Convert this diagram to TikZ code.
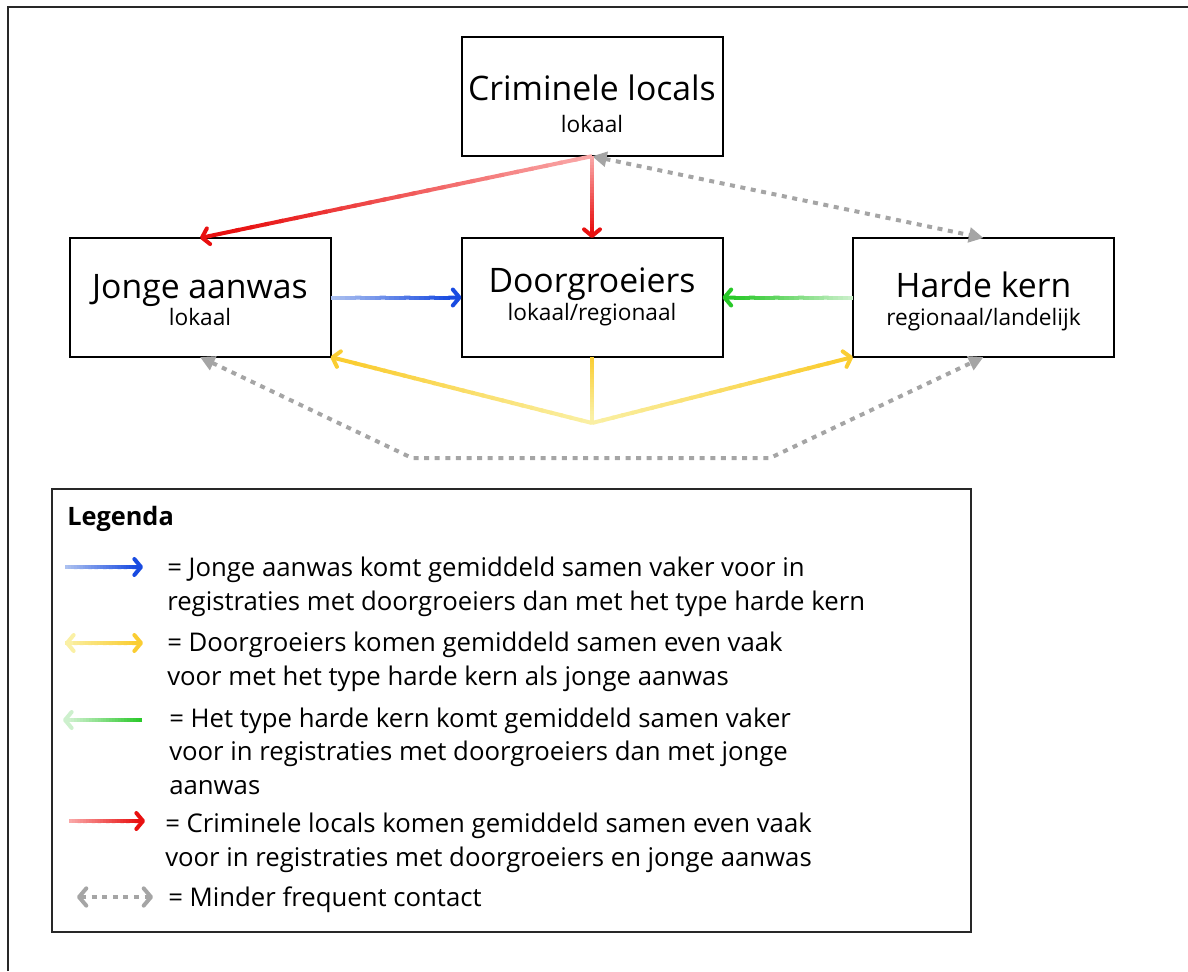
\documentclass[tikz,border=0pt]{standalone}
\usepackage{fontspec}
\setmainfont{Open Sans}
\usetikzlibrary{arrows.meta,calc}
\definecolor{cRed}{RGB}{232,16,16}
\definecolor{cRedL}{RGB}{250,170,170}
\definecolor{cBlue}{RGB}{25,75,225}
\definecolor{cBlueL}{RGB}{175,195,240}
\definecolor{cGreen}{RGB}{40,200,40}
\definecolor{cGreenL}{RGB}{205,240,205}
\definecolor{cYel}{RGB}{250,205,50}
\definecolor{cYelL}{RGB}{250,240,165}
\definecolor{cGray}{RGB}{165,165,165}
\definecolor{cFrame}{RGB}{40,40,40}
\tikzset{
 box/.style={draw=black, line width=1.5pt, minimum width=195.75pt, minimum height=89.25pt, inner sep=0pt, outer sep=0pt},
 ttl/.style={anchor=base, font=\fontsize{25.3}{30}\selectfont, inner sep=0pt},
 subt/.style={anchor=base, font=\fontsize{17}{20}\selectfont, inner sep=0pt},
 conn/.style={line width=3pt},
 barb/.style={-{Straight Barb[length=5pt,width=12pt,round]}},
 dots/.style={draw=cGray, line width=3pt, dash pattern=on 3.75pt off 4.2pt},
 tri/.style={{Triangle[length=11pt,width=11pt]}-{Triangle[length=11pt,width=11pt]}},
 bars/.style={{Straight Barb[length=5.5pt,width=13pt,round]}-{Straight Barb[length=5.5pt,width=13pt,round]}},
 lgd/.style={anchor=base west, font=\fontsize{19.3}{23}\selectfont, inner sep=0pt},
}
\newcommand\gradline[5]{%
  \foreach \k in {1,...,24}{%
    \pgfmathsetmacro\ta{0.9*(\k-1)/24}%
    \pgfmathsetmacro\tb{min(0.9*\k/24+0.01,0.91)}%
    \pgfmathtruncatemacro\pc{100*(\k-0.5)/24}%
    \draw[conn, draw=#4!\pc!#3] ($(#1)!\ta!(#2)$) -- ($(#1)!\tb!(#2)$);
  }%
  \draw[conn, draw=#4, #5] ($(#1)!0.9!(#2)$) -- (#2);
}
\begin{document}
\begin{tikzpicture}[x=0.75pt,y=-0.75pt]
\useasboundingbox (0,0) rectangle (1188,971);
\draw[line width=1.8pt, draw=cFrame] (8,971) -- (8,7) -- (1188,7);

% boxes
\node[box] (crim) at (592,96.7) {};
\node[box] (jonge) at (200,297.5) {};
\node[box] (door) at (592,297.5) {};
\node[box] (harde) at (983.5,297.5) {};

\node[ttl] (t1) at (592,100) {Criminele locals};
\node[subt] (s1) at (592,132) {lokaal};
\node[ttl] (t2) at (200,298) {Jonge aanwas};
\node[subt] (s2) at (200,325) {lokaal};
\node[ttl] (t3) at (592,292) {Doorgroeiers};
\node[subt] (s3) at (592,320) {lokaal/regionaal};
\node[ttl] (t4) at (983.5,297) {Harde kern};
\node[subt] (s4) at (983.5,325) {regionaal/landelijk};

% gray dotted connectors
\coordinate (L1) at (412,458);
\coordinate (L2) at (770,458);
\coordinate (J) at (592,423);
\draw[dots, tri] (crim.south) -- (harde.north);
\draw[dots, tri] (jonge.south) -- (L1) -- (L2) -- (harde.south);

% coloured connectors
\gradline{crim.south}{jonge.north}{cRedL}{cRed}{barb}
\gradline{crim.south}{door.north}{cRedL}{cRed}{barb}
\gradline{jonge.east}{door.west}{cBlueL}{cBlue}{barb}
\gradline{harde.west}{door.east}{cGreenL}{cGreen}{barb}
\gradline{door.south}{J}{cYel}{cYelL}{}
\gradline{J}{jonge.south east}{cYelL}{cYel}{barb}
\gradline{J}{harde.south west}{cYelL}{cYel}{barb}

% legend
\node[draw=cFrame, line width=1.8pt, minimum width=689.25pt, minimum height=332.25pt, inner sep=0pt] (legend) at (511.5,710.5) {};
\node[anchor=base west, inner sep=0pt, font=\bfseries\fontsize{19}{23}\selectfont] (lt) at (67,525) {Legenda};

\coordinate (a1) at (65,567); \coordinate (b1) at (143,567);
\coordinate (a2) at (65,643); \coordinate (b2) at (143,643);
\coordinate (a3) at (142,720); \coordinate (b3) at (63,720);
\coordinate (a4) at (69,821); \coordinate (b4) at (145,821);
\coordinate (a5) at (77,897); \coordinate (b5) at (153,897);
\gradline{a1}{b1}{cBlueL}{cBlue}{barb}
\gradline{a2}{b2}{cYelL}{cYel}{barb}
\draw[conn, draw=cYelL, barb] ($(a2)!0.1!(b2)$) -- (a2);
\gradline{a3}{b3}{cGreen}{cGreenL}{barb}
\gradline{a4}{b4}{cRedL}{cRed}{barb}
\draw[dots, bars] (a5) -- (b5);

\node[lgd] (l1) at (167,576) {= Jonge aanwas komt gemiddeld samen vaker voor in};
\node[lgd] (l2) at (167,610) {registraties met doorgroeiers dan met het type harde kern};
\node[lgd] (l3) at (167,651) {= Doorgroeiers komen gemiddeld samen even vaak};
\node[lgd] (l4) at (167,685) {voor met het type harde kern als jonge aanwas};
\node[lgd] (l5) at (169,727) {= Het type harde kern komt gemiddeld samen vaker};
\node[lgd] (l6) at (169,760) {voor in registraties met doorgroeiers dan met jonge};
\node[lgd] (l7) at (169,794) {aanwas};
\node[lgd] (l8) at (165,832) {= Criminele locals komen gemiddeld samen even vaak};
\node[lgd] (l9) at (165,866) {voor in registraties met doorgroeiers en jonge aanwas};
\node[lgd] (l10) at (168,906) {= Minder frequent contact};
\end{tikzpicture}
\end{document}
